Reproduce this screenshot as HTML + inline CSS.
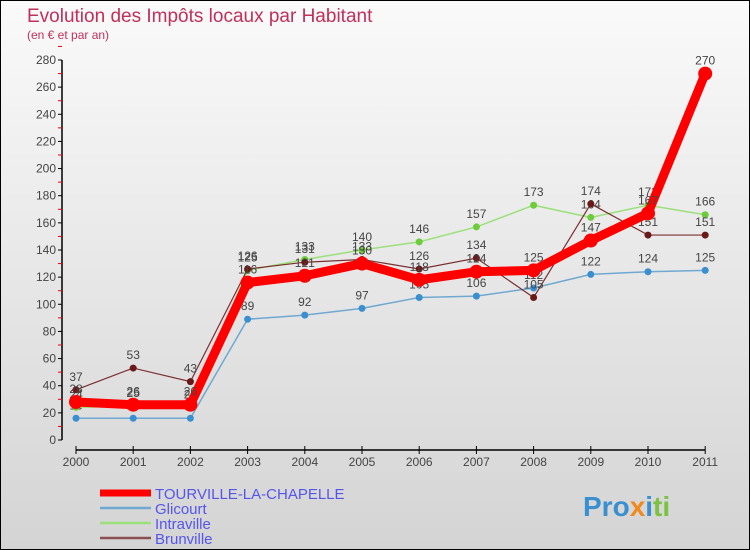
<!DOCTYPE html>
<html><head><meta charset="utf-8"><style>
body{margin:0;}
#c{width:750px;height:550px;position:relative;overflow:hidden;}
text{font-family:"Liberation Sans",sans-serif;}
</style></head><body>
<div id="c">
<svg id="s" width="750" height="550" xmlns="http://www.w3.org/2000/svg">
<defs><linearGradient id="bg" x1="0" y1="0" x2="0" y2="1"><stop offset="0" stop-color="#fafafa"/><stop offset="1" stop-color="#d4d4d4"/></linearGradient></defs>
<rect x="0.5" y="0.5" width="749" height="549" fill="url(#bg)" stroke="#000"/>
<text x="27" y="22" font-size="19" fill="#c0305a">Evolution des Impôts locaux par Habitant</text>
<text x="27" y="39" font-size="12" fill="#c0305a">(en € et par an)</text>
<g id="axes"></g><g id="plot"></g><g id="legend"></g>
<text x="583" y="516" font-size="28" font-weight="bold" fill="#3a8fd0">Pro<tspan fill="#f08a1c">x</tspan><tspan fill="#3a8fd0">i</tspan><tspan fill="#7cc242">ti</tspan></text>
</svg></div>
<script>
const years=["2000","2001","2002","2003","2004","2005","2006","2007","2008","2009","2010","2011"];
const yTicks=[0,20,40,60,80,100,120,140,160,180,200,220,240,260,280];
const tourville=[28,26,26,116,121,130,118,124,125,147,167,270];
const glicourt=[16,16,16,89,92,97,105,106,112,122,124,125];
const intraville=[24,25,24,125,133,140,146,157,173,164,173,166];
const brunville=[37,53,43,126,131,133,126,134,105,174,151,151];
const NS="http://www.w3.org/2000/svg";
const X=i=>76+i*57.2, Y=v=>440-v*380/280;
function mk(tag,at,par){const e=document.createElementNS(NS,tag);for(const k in at)e.setAttribute(k,at[k]);par.appendChild(e);return e;}
const ax=document.getElementById('axes'),pl=document.getElementById('plot'),lg=document.getElementById('legend');
let a=mk('line',{x1:62,y1:Y(280),x2:62,y2:440,stroke:'#000','stroke-width':1.5},ax);

yTicks.forEach(v=>{
 mk('line',{x1:58,y1:Y(v),x2:62,y2:Y(v),stroke:'#000'},ax);
 mk('line',{x1:58,y1:Y(v+10),x2:62,y2:Y(v+10),stroke:'#e00'},ax);
 const t=mk('text',{x:56,y:Y(v)+4,'font-size':12,fill:'#444','text-anchor':'end'},ax);t.textContent=v;
 
});
a=mk('line',{x1:76,y1:450,x2:X(11),y2:450,stroke:'#000','stroke-width':1.5},ax);

years.forEach((y,i)=>{
 mk('line',{x1:X(i),y1:446,x2:X(i),y2:454,stroke:'#000'},ax);
 const t=mk('text',{x:X(i),y:466,'font-size':12,fill:'#444','text-anchor':'middle'},ax);t.textContent=y;
 
});
function series(data,name,col,dot,w,r){
 const g=mk('g',{},pl);
 mk('polyline',{points:data.map((v,i)=>X(i)+','+Y(v)).join(' '),fill:'none',stroke:col,'stroke-width':w},g);
 data.forEach((v,i)=>{
  const c=mk('circle',{cx:X(i),cy:Y(v),r:r,fill:dot},g);
  
  const t=mk('text',{x:X(i),y:Y(v)-9,'font-size':12,fill:'#444','text-anchor':'middle'},g);t.textContent=v;
  
 });
}
series(glicourt,'glicourt','#6fa8d0','#3a8fd0',1.5,3.5);
series(intraville,'intraville','#9be07a','#6ccc3a',1.5,3.5);
series(brunville,'brunville','#7a3030','#6a1818',1.2,3.5);
series(tourville,'tourville','#ff0000','#ff0000',9,7);
const leg=[["TOURVILLE-LA-CHAPELLE","#f00",7],["Glicourt","#6fa8d0",2.5],["Intraville","#9be07a",2.5],["Brunville","#8a5050",2.5]];
leg.forEach((l,i)=>{
 const g=mk('g',{},lg);
 const y=493+i*15;
 mk('line',{x1:100,y1:y,x2:151,y2:y,stroke:l[1],'stroke-width':l[2]},g);
 const t=mk('text',{x:155,y:y+6,'font-size':15,fill:'#5555ee'},g);t.textContent=l[0];
});
</script>
</body></html>
